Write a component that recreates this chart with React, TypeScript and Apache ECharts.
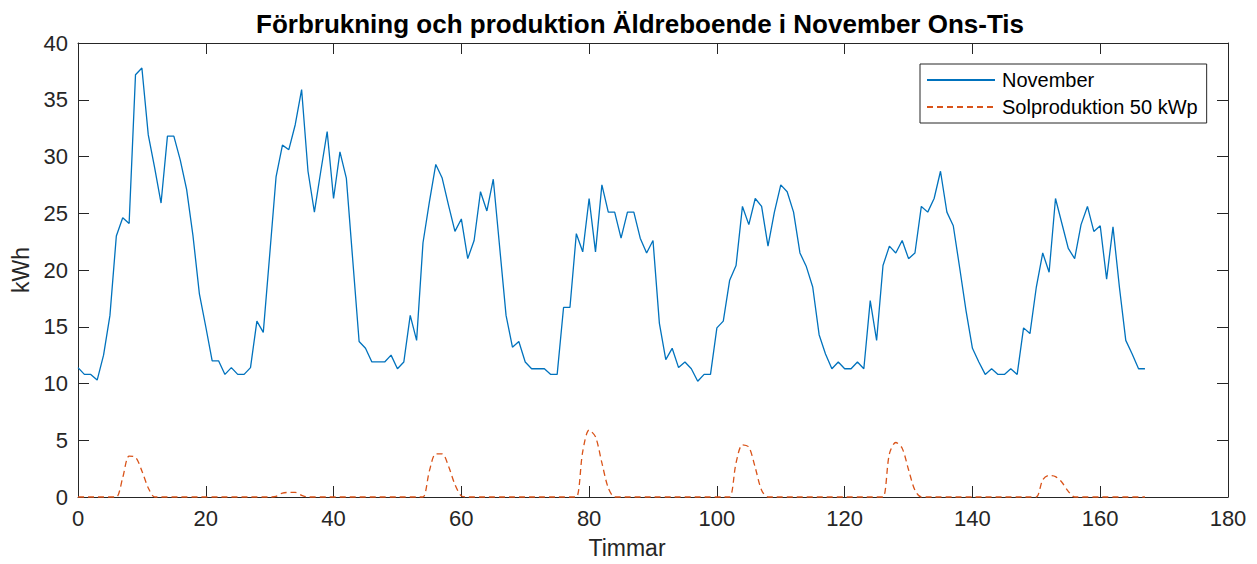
import { useEffect, useRef } from "react";
import * as echarts from "echarts";

// Hourly consumption, Wednesday 00:00 through Tuesday 23:00 (kWh)
const november: number[] = [
  11.4, 10.8, 10.8, 10.3, 12.5, 16.0, 23.0, 24.6, 24.1, 37.2,
  37.8, 31.9, 29.0, 25.9, 31.8, 31.8, 29.7, 27.1, 23.0, 17.9,
  15.0, 12.0, 12.0, 10.8, 11.4, 10.8, 10.8, 11.4, 15.5, 14.5,
  21.3, 28.2, 31.0, 30.6, 32.8, 35.9, 28.7, 25.1, 28.7, 32.2,
  26.3, 30.4, 28.1, 20.9, 13.7, 13.1, 11.9, 11.9, 11.9, 12.5,
  11.3, 11.9, 16.0, 13.8, 22.4, 26.0, 29.3, 28.1, 25.7, 23.4,
  24.5, 21.0, 22.6, 26.9, 25.2, 28.0, 22.0, 16.0, 13.2, 13.7,
  11.9, 11.3, 11.3, 11.3, 10.8, 10.8, 16.7, 16.7, 23.2, 21.6,
  26.3, 21.6, 27.5, 25.1, 25.1, 22.8, 25.1, 25.1, 22.8, 21.5,
  22.6, 15.3, 12.1, 13.1, 11.4, 11.9, 11.3, 10.2, 10.8, 10.8,
  14.9, 15.5, 19.1, 20.4, 25.6, 24.0, 26.3, 25.6, 22.1, 25.1,
  27.5, 26.9, 25.1, 21.5, 20.3, 18.5, 14.3, 12.6, 11.3, 11.9,
  11.3, 11.3, 11.9, 11.3, 17.3, 13.8, 20.4, 22.1, 21.5, 22.6,
  21.0, 21.5, 25.6, 25.1, 26.3, 28.7, 25.1, 23.9, 20.2, 16.4,
  13.1, 11.9, 10.8, 11.3, 10.8, 10.8, 11.3, 10.8, 14.9, 14.4,
  18.5, 21.5, 19.8, 26.3, 24.1, 21.9, 21.0, 24.0, 25.6, 23.4,
  23.9, 19.2, 23.8, 18.5, 13.8, 12.6, 11.3, 11.3,
];

// Hourly solar production of a 50 kWp plant over the same week (kWh)
const solar: number[] = [
  0, 0, 0, 0, 0, 0, 0, 1.7, 3.6, 3.5,
  2.3, 0.8, 0, 0, 0, 0, 0, 0, 0, 0,
  0, 0, 0, 0, 0, 0, 0, 0, 0, 0,
  0, 0.05, 0.35, 0.4, 0.4, 0.15, 0, 0, 0, 0,
  0, 0, 0, 0, 0, 0, 0, 0, 0, 0,
  0, 0, 0, 0, 0, 2.3, 3.8, 3.8, 2.7, 1.1,
  0.1, 0, 0, 0, 0, 0, 0, 0, 0, 0,
  0, 0, 0, 0, 0, 0, 0, 0, 0, 4.0,
  5.9, 5.3, 3.0, 0.8, 0, 0, 0, 0, 0, 0,
  0, 0, 0, 0, 0, 0, 0, 0, 0, 0,
  0, 0, 0, 3.0, 4.6, 4.4, 2.6, 0.6, 0, 0,
  0, 0, 0, 0, 0, 0, 0, 0, 0, 0,
  0, 0, 0, 0, 0, 0, 0, 3.8, 4.8, 4.3,
  2.4, 0.6, 0, 0, 0, 0, 0, 0, 0, 0,
  0, 0, 0, 0, 0, 0, 0, 0, 0, 0,
  0, 1.5, 1.9, 1.8, 1.3, 0.5, 0, 0, 0, 0,
  0, 0, 0, 0, 0, 0, 0, 0,
];

const seriesNames = ["November", "Solproduktion 50 kWp"];
const titleText = "Förbrukning och produktion Äldreboende i November Ons-Tis";
const xAxisTitle = "Timmar";
const yAxisTitle = "kWh";

const FONT = '"Liberation Sans", Arial, Helvetica, sans-serif';
const AXIS = "#262626";
const BLUE = "#0072BD";
const ORANGE = "#D95319";

function frameAxis(position: string, showLabels: boolean, min: number, max: number, interval: number) {
  return {
    type: "value",
    position,
    min,
    max,
    interval,
    axisLine: { show: true, onZero: false, lineStyle: { color: AXIS, width: 1 } },
    axisTick: { show: true, inside: true, length: 11, lineStyle: { color: AXIS, width: 1 } },
    axisLabel: {
      show: showLabels,
      color: AXIS,
      fontSize: 22,
      fontFamily: FONT,
      margin: 10,
    },
    splitLine: { show: false },
  };
}

export default function App() {
  const ref = useRef<HTMLDivElement>(null);

  useEffect(() => {
    const chart = echarts.init(ref.current!, null, { renderer: "svg" });
    chart.setOption({
      animation: false,
      backgroundColor: "#ffffff",
      textStyle: { fontFamily: FONT },
      grid: { left: 78, right: 29, top: 43, bottom: 67, containLabel: false },
      xAxis: [frameAxis("bottom", true, 0, 180, 20), frameAxis("top", false, 0, 180, 20)],
      yAxis: [
        {
          ...frameAxis("left", true, 0, 40, 5),
          name: yAxisTitle,
          nameLocation: "middle",
          nameGap: 46,
          nameTextStyle: { color: AXIS, fontSize: 23, fontFamily: FONT },
        },
        frameAxis("right", false, 0, 40, 5),
      ],
      legend: {
        show: true,
        orient: "vertical",
        left: 920,
        top: 64,
        padding: [6, 9, 6, 6],
        itemGap: 7,
        itemWidth: 68,
        itemHeight: 14,
        backgroundColor: "#ffffff",
        borderColor: AXIS,
        borderWidth: 1,
        borderRadius: 0,
        itemStyle: { opacity: 0 },
        textStyle: { color: "#000000", fontSize: 20, fontFamily: FONT, padding: [0, 0, 0, 2] },
        data: seriesNames,
      },
      graphic: [
        {
          type: "text",
          x: 640,
          y: 24,
          style: {
            text: titleText,
            fill: "#000000",
            font: `bold 26px ${FONT}`,
            textAlign: "center",
            textVerticalAlign: "middle",
          },
        },
        {
          type: "text",
          x: 627,
          y: 548,
          style: {
            text: xAxisTitle,
            fill: AXIS,
            font: `23px ${FONT}`,
            textAlign: "center",
            textVerticalAlign: "middle",
          },
        },
      ],
      series: [
        {
          name: seriesNames[0],
          type: "line",
          data: november.map((v, i) => [i, v]),
          symbol: "none",
          clip: false,
          lineStyle: { color: BLUE, width: 1.3 },
          itemStyle: { color: BLUE },
          z: 3,
        },
        {
          name: seriesNames[1],
          type: "line",
          data: solar.map((v, i) => [i, v]),
          symbol: "none",
          smooth: 0.3,
          clip: false,
          lineStyle: { color: ORANGE, width: 1.3, type: [6, 4] },
          itemStyle: { color: ORANGE },
          z: 4,
        },
      ],
    });
    return () => chart.dispose();
  }, []);

  return (
    <div
      ref={ref}
      style={{ position: "fixed", left: 0, top: 0, width: 1257, height: 564, background: "#fff" }}
    />
  );
}
